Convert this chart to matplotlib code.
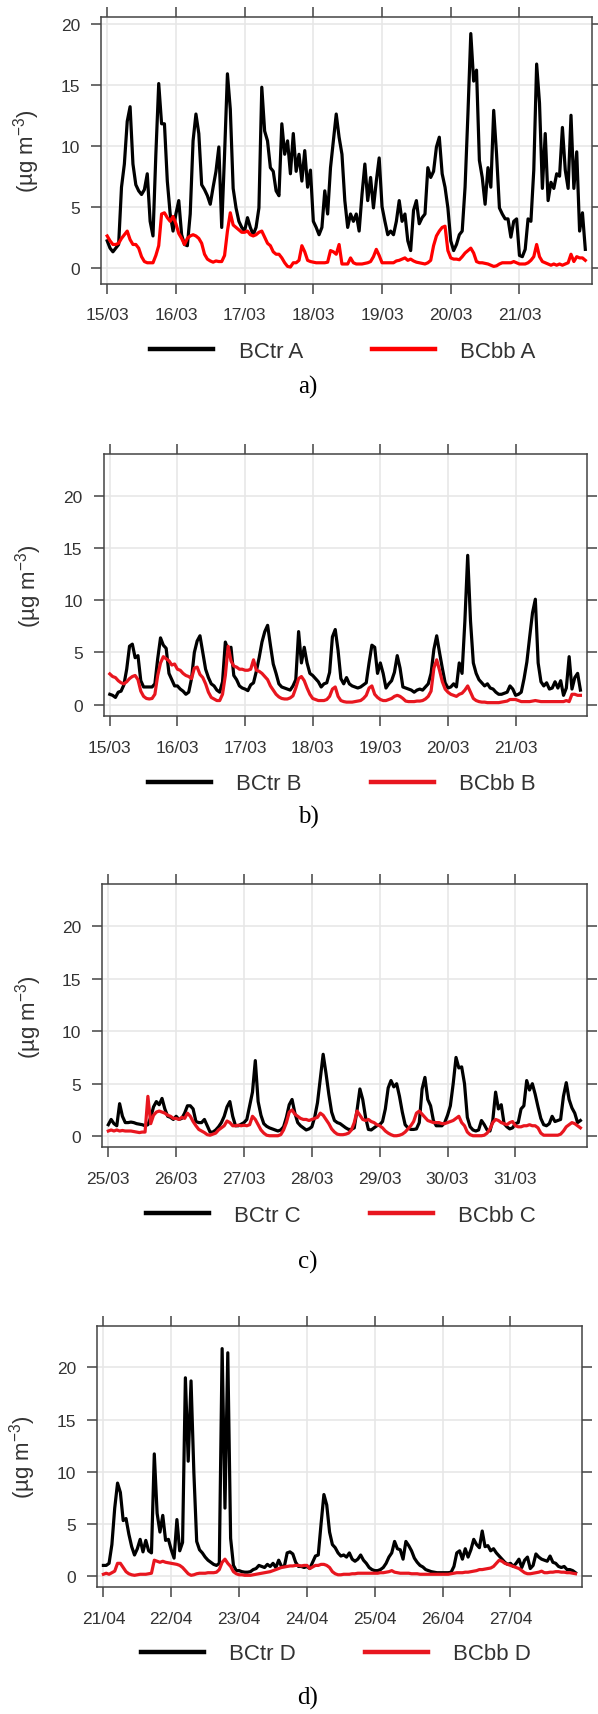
import numpy as np
import matplotlib
matplotlib.use('Agg')
import matplotlib.pyplot as plt

plt.rcParams['font.family'] = ['Liberation Sans', 'DejaVu Sans']
plt.rcParams['mathtext.fontset'] = 'custom'
plt.rcParams['mathtext.rm'] = 'Liberation Sans'
plt.rcParams['mathtext.it'] = 'Liberation Sans:italic'

# day labels
days_ab = ['15/03', '16/03', '17/03', '18/03', '19/03', '20/03', '21/03']
days_c = ['25/03', '26/03', '27/03', '28/03', '29/03', '30/03', '31/03']
days_d = ['21/04', '22/04', '23/04', '24/04', '25/04', '26/04', '27/04']

# hourly values (ug m-3), one row of 24 per day
bctr_a = [
    2.2, 1.6, 1.3, 1.6, 1.9, 6.6, 8.5, 12.0, 13.2, 8.5, 6.8, 6.3, 6.0, 6.4, 7.7, 3.8, 2.6, 9.3, 15.1, 11.8, 11.8, 7.1, 4.4, 3.0,
    4.4, 5.5, 2.7, 1.9, 1.8, 4.4, 10.4, 12.6, 11.0, 6.8, 6.4, 5.9, 5.2, 6.6, 7.9, 9.9, 3.3, 9.3, 15.9, 13.0, 6.5, 4.9, 3.8, 3.3,
    3.0, 4.1, 3.3, 2.7, 3.3, 4.9, 14.8, 11.2, 10.4, 8.2, 7.9, 6.3, 5.9, 11.8, 9.3, 10.4, 7.7, 11.0, 7.9, 9.3, 7.1, 9.6, 6.6, 8.0,
    3.8, 3.3, 2.7, 3.3, 6.3, 4.4, 8.2, 10.4, 12.6, 10.7, 9.3, 5.5, 3.3, 4.4, 3.8, 4.4, 3.0, 6.0, 8.5, 5.5, 7.4, 4.9, 7.1, 9.0,
    5.0, 3.8, 2.7, 3.0, 2.7, 3.8, 5.5, 3.8, 4.4, 2.2, 1.4, 4.7, 5.5, 3.6, 4.1, 4.4, 8.2, 7.4, 7.9, 9.9, 10.7, 7.7, 6.6, 4.9,
    2.2, 1.4, 1.9, 2.7, 3.0, 6.6, 12.6, 19.2, 15.3, 16.2, 8.8, 7.4, 5.2, 8.2, 6.6, 12.9, 9.3, 4.9, 4.4, 4.0, 4.0, 2.5, 3.8, 4.0,
    1.0, 0.9, 1.5, 4.0, 3.8, 8.0, 16.7, 13.5, 6.5, 11.0, 5.5, 7.0, 6.5, 7.7, 7.5, 11.5, 8.0, 6.5, 12.5, 6.5, 9.5, 3.0, 4.5, 1.5,
]
bcbb_a = [
    2.6, 2.2, 1.9, 1.9, 2.0, 2.4, 2.7, 3.0, 2.3, 1.9, 1.9, 1.6, 0.9, 0.5, 0.4, 0.4, 0.4, 1.0, 1.8, 4.4, 4.5, 4.1, 3.8, 4.2,
    3.6, 2.8, 2.4, 1.9, 2.4, 2.6, 2.7, 2.6, 2.4, 2.0, 1.1, 0.7, 0.55, 0.45, 0.55, 0.5, 0.5, 1.0, 3.0, 4.5, 3.5, 3.3, 3.1, 2.9,
    2.9, 3.0, 2.7, 2.6, 2.7, 2.9, 3.0, 2.5, 2.0, 1.8, 1.3, 1.1, 1.1, 0.8, 0.4, 0.1, 0.05, 0.4, 0.4, 0.6, 1.8, 1.3, 0.6, 0.5,
    0.45, 0.4, 0.4, 0.4, 0.4, 0.45, 1.4, 1.3, 1.1, 1.9, 0.3, 0.3, 0.3, 0.8, 0.4, 0.3, 0.3, 0.3, 0.35, 0.4, 0.5, 0.9, 1.5, 1.0,
    0.4, 0.4, 0.4, 0.4, 0.4, 0.55, 0.6, 0.7, 0.8, 0.6, 0.7, 0.55, 0.45, 0.4, 0.35, 0.3, 0.4, 0.6, 1.8, 2.6, 3.0, 3.3, 3.4, 1.4,
    0.8, 0.7, 0.7, 0.65, 0.9, 1.2, 1.4, 1.6, 1.2, 0.5, 0.4, 0.4, 0.35, 0.3, 0.2, 0.1, 0.15, 0.3, 0.4, 0.4, 0.4, 0.4, 0.5, 0.4,
    0.3, 0.3, 0.3, 0.4, 0.6, 0.9, 1.9, 0.9, 0.5, 0.4, 0.3, 0.2, 0.3, 0.2, 0.3, 0.2, 0.3, 0.4, 1.1, 0.5, 0.9, 0.8, 0.8, 0.6,
]

bctr_b = [
    1.0, 0.9, 0.7, 1.2, 1.3, 1.9, 3.4, 5.6, 5.8, 4.5, 4.7, 2.3, 1.7, 1.7, 1.7, 1.7, 2.0, 4.4, 6.4, 5.7, 5.4, 3.0, 2.4, 1.8,
    1.8, 1.5, 1.3, 1.0, 1.2, 2.5, 5.0, 6.1, 6.6, 5.0, 3.4, 2.6, 2.0, 1.8, 1.4, 1.2, 2.2, 6.0, 5.2, 5.5, 2.8, 2.4, 1.8, 1.6,
    1.5, 1.35, 1.9, 2.1, 3.2, 4.5, 6.0, 7.0, 7.6, 5.7, 3.9, 3.0, 2.0, 1.7, 1.6, 1.5, 1.4, 1.8, 2.4, 7.0, 4.0, 5.5, 4.0, 3.0,
    2.8, 2.5, 2.2, 1.7, 2.0, 2.1, 3.1, 6.5, 7.2, 5.2, 2.5, 2.0, 2.6, 2.0, 1.8, 1.7, 1.6, 1.7, 1.9, 2.1, 4.0, 5.7, 5.5, 3.0,
    4.0, 3.0, 1.6, 2.0, 2.3, 3.1, 4.7, 3.5, 1.7, 1.6, 1.5, 1.4, 1.2, 1.4, 1.5, 1.4, 1.7, 2.0, 3.0, 5.3, 6.6, 5.0, 3.5, 2.1,
    1.6, 1.7, 2.0, 1.7, 4.0, 3.0, 8.0, 14.3, 8.0, 4.0, 3.0, 2.4, 2.1, 1.8, 2.0, 1.6, 1.5, 1.2, 1.0, 1.0, 1.1, 1.2, 1.8, 1.5,
    0.9, 1.0, 1.2, 2.5, 4.1, 6.5, 8.8, 10.1, 4.0, 2.2, 1.8, 2.1, 1.5, 1.6, 2.2, 1.6, 2.3, 0.9, 1.6, 4.6, 1.5, 2.6, 3.0, 1.4,
]
bcbb_b = [
    2.95, 2.7, 2.6, 2.3, 2.1, 2.0, 2.2, 2.5, 2.7, 2.8, 2.4, 1.3, 0.8, 0.6, 0.55, 0.6, 1.0, 2.8, 4.0, 4.6, 4.4, 4.2, 3.8, 3.9,
    3.4, 3.3, 3.0, 2.8, 2.7, 2.5, 3.5, 3.6, 2.9, 2.6, 2.0, 1.2, 0.7, 0.55, 0.4, 0.4, 1.0, 2.8, 5.6, 4.2, 3.7, 3.6, 3.4, 3.4,
    3.3, 3.3, 3.4, 4.3, 3.3, 3.2, 3.0, 2.7, 2.4, 1.8, 1.4, 1.0, 0.75, 0.6, 0.55, 0.55, 0.65, 0.85, 1.6, 2.5, 2.7, 2.3, 1.6, 1.0,
    0.6, 0.5, 0.4, 0.4, 0.4, 0.5, 0.8, 1.5, 1.7, 0.8, 0.4, 0.3, 0.25, 0.25, 0.25, 0.3, 0.35, 0.4, 0.6, 0.9, 1.6, 1.8, 1.0, 0.7,
    0.5, 0.4, 0.4, 0.5, 0.6, 0.8, 0.9, 0.8, 0.6, 0.35, 0.3, 0.3, 0.3, 0.35, 0.35, 0.4, 0.55, 0.8, 1.3, 3.5, 4.3, 3.3, 2.2, 1.5,
    1.2, 1.0, 0.9, 0.8, 1.0, 1.1, 1.4, 1.8, 1.2, 0.6, 0.4, 0.3, 0.25, 0.25, 0.2, 0.2, 0.2, 0.2, 0.2, 0.25, 0.3, 0.35, 0.5, 0.5,
    0.5, 0.4, 0.3, 0.3, 0.3, 0.3, 0.35, 0.4, 0.35, 0.3, 0.3, 0.3, 0.3, 0.3, 0.3, 0.3, 0.3, 0.3, 0.4, 0.3, 1.0, 1.0, 0.9, 0.9,
]

bctr_c = [
    1.1, 1.6, 1.2, 1.0, 3.1, 1.9, 1.3, 1.3, 1.35, 1.3, 1.2, 1.15, 1.1, 1.0, 1.1, 1.8, 2.8, 3.3, 3.0, 3.6, 2.6, 1.9, 1.8, 1.6,
    1.9, 1.6, 1.7, 2.2, 2.9, 2.9, 2.6, 1.4, 1.3, 1.3, 1.6, 1.0, 0.4, 0.4, 0.6, 0.9, 1.3, 1.9, 2.8, 3.3, 1.9, 1.0, 1.0, 1.15,
    1.3, 1.6, 2.9, 4.2, 7.2, 3.3, 2.0, 1.2, 0.95, 0.8, 0.7, 0.6, 0.5, 0.6, 0.9, 1.8, 3.0, 3.5, 2.2, 1.3, 1.0, 0.8, 0.6, 0.7,
    0.9, 1.8, 3.2, 5.5, 7.8, 6.0, 4.0, 2.3, 1.5, 1.3, 1.2, 1.0, 0.8, 0.65, 0.65, 0.8, 2.5, 4.5, 3.5, 1.8, 0.65, 0.6, 0.8, 1.0,
    1.1, 1.4, 2.6, 4.6, 5.3, 4.7, 5.0, 3.8, 2.3, 1.1, 0.8, 0.65, 0.65, 0.7, 1.3, 4.5, 5.6, 3.5, 2.9, 1.5, 1.0, 1.0, 1.0, 1.3,
    2.0, 2.9, 5.0, 7.5, 6.5, 6.6, 5.0, 1.8, 0.9, 0.6, 0.5, 0.6, 1.5, 1.1, 0.6, 0.5, 1.5, 4.2, 2.6, 3.0, 1.2, 0.9, 0.7, 0.8,
    1.2, 1.3, 2.6, 2.9, 5.3, 4.4, 5.0, 4.0, 2.8, 1.7, 1.1, 1.0, 1.2, 1.9, 1.4, 1.5, 1.6, 3.8, 5.1, 3.5, 2.7, 2.2, 1.3, 1.5,
]
bcbb_c = [
    0.5, 0.6, 0.5, 0.6, 0.5, 0.55, 0.5, 0.5, 0.5, 0.45, 0.4, 0.35, 0.4, 0.4, 3.8, 1.2, 2.0, 2.3, 2.4, 2.3, 2.2, 2.0, 1.9, 1.7,
    1.7, 1.6, 1.8, 1.7, 2.2, 1.9, 1.4, 1.0, 0.65, 0.5, 0.35, 0.15, 0.1, 0.2, 0.3, 0.6, 0.8, 1.0, 1.45, 1.3, 1.0, 1.0, 1.05, 1.0,
    1.05, 1.0, 1.1, 1.9, 1.6, 1.1, 0.6, 0.3, 0.1, 0.05, 0.05, 0.05, 0.05, 0.15, 0.6, 1.3, 2.3, 2.5, 2.1, 1.9, 1.7, 1.6, 1.6, 1.5,
    1.6, 1.7, 1.8, 2.2, 2.0, 1.6, 1.2, 0.7, 0.4, 0.2, 0.15, 0.15, 0.2, 0.3, 0.6, 1.3, 2.4, 2.0, 1.6, 1.5, 1.6, 1.4, 1.3, 1.1,
    1.0, 0.8, 0.5, 0.3, 0.15, 0.05, 0.05, 0.1, 0.2, 0.4, 0.7, 1.0, 1.4, 2.2, 2.4, 2.1, 1.8, 1.5, 1.4, 1.3, 1.3, 1.3, 1.2, 1.2,
    1.3, 1.4, 1.5, 1.7, 1.9, 1.3, 1.0, 0.4, 0.15, 0.05, 0.05, 0.05, 0.05, 0.1, 0.3, 0.7, 1.3, 1.6, 1.5, 1.3, 1.2, 1.1, 1.3, 1.4,
    1.0, 0.9, 0.9, 1.0, 1.0, 1.1, 1.0, 1.0, 0.8, 0.3, 0.1, 0.1, 0.1, 0.1, 0.1, 0.1, 0.2, 0.5, 0.9, 1.1, 1.3, 1.2, 1.0, 0.8,
]

bctr_d = [
    1.0, 1.0, 1.2, 3.0, 6.5, 8.9, 8.0, 5.3, 5.5, 4.0, 2.8, 2.0, 2.6, 3.5, 2.3, 3.4, 2.4, 2.2, 11.7, 6.0, 4.2, 5.8, 3.4, 3.5,
    2.5, 1.7, 5.4, 2.4, 3.2, 19.0, 11.0, 18.7, 9.9, 3.3, 2.5, 2.2, 1.8, 1.5, 1.3, 1.1, 1.0, 1.2, 21.8, 6.5, 21.4, 3.6, 1.0, 0.5,
    0.5, 0.4, 0.35, 0.35, 0.4, 0.6, 0.7, 1.0, 0.9, 0.8, 1.1, 0.9, 1.2, 0.8, 1.5, 0.9, 0.9, 2.2, 2.3, 2.1, 1.3, 0.9, 0.9, 0.8,
    0.9, 0.7, 1.3, 1.9, 2.0, 5.0, 7.8, 6.8, 4.2, 3.0, 2.7, 2.2, 1.9, 2.0, 1.8, 2.2, 1.6, 1.4, 1.6, 2.0, 1.5, 1.2, 0.8, 0.6,
    0.5, 0.5, 0.6, 0.8, 1.2, 1.8, 2.2, 3.3, 2.6, 2.5, 1.6, 3.3, 2.9, 2.4, 1.7, 1.3, 1.0, 0.85, 0.6, 0.5, 0.4, 0.35, 0.3, 0.3,
    0.3, 0.3, 0.3, 0.35, 0.9, 2.2, 2.4, 1.6, 2.6, 1.8, 2.5, 3.5, 3.0, 2.7, 4.3, 2.8, 2.9, 2.4, 2.6, 2.2, 1.9, 1.6, 1.3, 1.1,
    1.2, 0.9, 1.2, 1.6, 0.8, 1.5, 1.8, 0.7, 1.0, 2.1, 1.8, 1.6, 1.5, 1.4, 1.9, 1.3, 1.2, 0.9, 0.8, 0.9, 0.6, 0.6, 0.5, 0.3,
]
bcbb_d = [
    0.15, 0.25, 0.15, 0.3, 0.45, 1.2, 1.2, 0.8, 0.4, 0.2, 0.1, 0.05, 0.1, 0.15, 0.15, 0.15, 0.2, 0.25, 1.5, 1.4, 1.3, 1.4, 1.3, 1.25,
    1.2, 1.15, 1.1, 1.0, 0.8, 0.5, 0.2, 0.05, 0.1, 0.2, 0.25, 0.25, 0.25, 0.3, 0.3, 0.3, 0.35, 0.6, 1.3, 1.6, 1.2, 0.9, 0.4, 0.2,
    0.1, 0.1, 0.05, 0.05, 0.05, 0.1, 0.15, 0.2, 0.25, 0.3, 0.35, 0.4, 0.5, 0.6, 0.7, 0.8, 0.85, 0.9, 0.95, 0.95, 1.0, 1.0, 0.95, 1.0,
    1.0, 0.7, 0.85, 1.0, 1.0, 1.1, 1.1, 1.0, 0.8, 0.4, 0.2, 0.1, 0.1, 0.15, 0.15, 0.15, 0.2, 0.2, 0.25, 0.25, 0.25, 0.25, 0.25, 0.25,
    0.25, 0.25, 0.3, 0.3, 0.35, 0.4, 0.5, 0.35, 0.3, 0.25, 0.25, 0.25, 0.25, 0.2, 0.2, 0.2, 0.15, 0.15, 0.15, 0.15, 0.15, 0.15, 0.15, 0.15,
    0.15, 0.15, 0.15, 0.2, 0.25, 0.3, 0.3, 0.3, 0.35, 0.35, 0.4, 0.45, 0.5, 0.6, 0.6, 0.65, 0.7, 0.75, 0.9, 1.2, 1.5, 1.4, 1.2, 1.1,
    1.0, 0.9, 0.8, 0.7, 0.5, 0.3, 0.2, 0.2, 0.25, 0.3, 0.35, 0.45, 0.3, 0.3, 0.35, 0.35, 0.4, 0.4, 0.35, 0.35, 0.3, 0.3, 0.25, 0.2,
]

W, H = 598, 1715
fig = plt.figure(figsize=(W / 100, H / 100), dpi=100)

# pixel boxes: left, top, right, bottom
panels = [
    dict(days=days_ab, tr=bctr_a, bb=bcbb_a, site='A', tag='a)', box=(101, 17.5, 592.3, 284.5),
         ylim=(-1.3, 20.6), red='#ff0000', leg=(343, 352.7), cap=387, ylab=26.7),
    dict(days=days_ab, tr=bctr_b, bb=bcbb_b, site='B', tag='b)', box=(103.7, 455, 587.3, 716.7),
         ylim=(-1.05, 24.0), red='#e8161f', leg=(342, 785), cap=817, ylab=28.6),
    dict(days=days_c, tr=bctr_c, bb=bcbb_c, site='C', tag='c)', box=(102.2, 885, 587.3, 1148.3),
         ylim=(-1.05, 24.0), red='#e8161f', leg=(341, 1216), cap=1262, ylab=28.6),
    dict(days=days_d, tr=bctr_d, bb=bcbb_d, site='D', tag='d)', box=(97.3, 1326.7, 582.4, 1588.3),
         ylim=(-1.1, 24.0), red='#e8161f', leg=(336, 1655), cap=1698, ylab=23),
]

for p in panels:
    l, t, r, b = p['box']
    ax = fig.add_axes([l / W, 1 - b / H, (r - l) / W, (b - t) / H])
    x = np.arange(len(p['tr'])) / 24
    ax.plot(x, p['tr'], color='black', lw=2.3, label='BCtr ' + p['site'])
    ax.plot(x, p['bb'], color=p['red'], lw=2.3, label='BCbb ' + p['site'])
    ax.set_xlim(-0.09, 7.06)
    ax.set_ylim(*p['ylim'])
    ax.set_xticks(range(7))
    ax.set_xticklabels(p['days'])
    ax.set_yticks([0, 5, 10, 15, 20])
    ax.grid(True, color='#e6e6e6', lw=1.1)
    ax.set_axisbelow(True)
    ax.tick_params(direction='out', length=7.2, width=1.1, color='#444444', labelcolor='#333333',
                   labelsize=12.5, top=True, right=True)
    ax.tick_params(axis='x', pad=10)
    ax.tick_params(axis='y', pad=8)
    for s in ax.spines.values():
        s.set_color('#444444')
        s.set_linewidth(1.1)

    lx, ly = p['leg']
    leg = ax.legend(loc='center', bbox_to_anchor=(lx / W, 1 - ly / H), bbox_transform=fig.transFigure,
                    ncol=2, frameon=False, fontsize=16, handlelength=2.84, handletextpad=1.14,
                    columnspacing=3.1, labelcolor='#333333')
    for ln in leg.get_lines():
        ln.set_linewidth(3.2)

    yc = 1 - (t + b) / 2 / H
    fig.text(p['ylab'] / W, yc, '(µg m$^{-3}$)', rotation=90, ha='center', va='center',
             fontsize=16, color='#333333')
    fig.text(308 / W, 1 - p['cap'] / H, p['tag'], ha='center', va='center', fontsize=18,
             family='Liberation Serif')

fig.savefig('out.png', dpi=100)
